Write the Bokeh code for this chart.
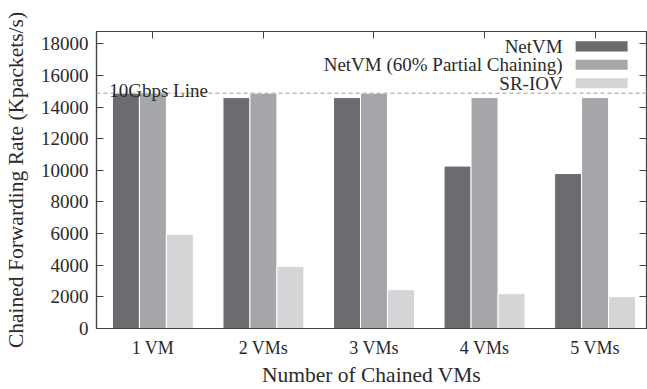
from bokeh.plotting import figure
from bokeh.models import (Range1d, FixedTicker, LinearAxis, Span, Label,
                          BoxAnnotation, ColumnDataSource)
from bokeh.transform import dodge
from bokeh.embed import file_html
from bokeh.resources import INLINE

categories = ["1 VM", "2 VMs", "3 VMs", "4 VMs", "5 VMs"]
netvm = [14880, 14600, 14600, 10270, 9800]
netvm_partial = [14880, 14880, 14880, 14600, 14600]
sriov = [5950, 3920, 2450, 2200, 2010]
series_names = ["NetVM", "NetVM (60% Partial Chaining)", "SR-IOV"]
colors = ["#6b6b70", "#a5a6a9", "#d4d5d7"]
y_ticks = [0, 2000, 4000, 6000, 8000, 10000, 12000, 14000, 16000, 18000]
line_rate = 14880
line_label = "10Gbps Line"

FONT = "Liberation Serif"
TXT = "#2a2a2a"
AX = "#444444"

xs = list(range(len(categories)))
src = ColumnDataSource(dict(x=xs, a=netvm, b=netvm_partial, c=sriov))

p = figure(width=647, height=389,
           x_range=Range1d(-0.51, 4.465), y_range=Range1d(0, 18780),
           output_backend="svg", toolbar_location=None,
           min_border_left=96, min_border_right=1,
           min_border_top=31, min_border_bottom=59)

bw = 0.244
for col, off, color in zip(["a", "b", "c"], [-bw, 0, bw], colors):
    p.vbar(x=dodge("x", off), top=col, width=bw, bottom=0, source=src,
           fill_color=color, line_color="white", line_width=1)

p.add_layout(Span(location=line_rate, dimension="width", line_color="#bbbbbb",
                  line_dash="4 3", line_width=1.5))
p.add_layout(Label(x=-0.395, y=15080, text=line_label, text_font=FONT,
                   text_font_size="19px", text_color=TXT,
                   text_baseline="alphabetic"))

# legend: text on the left, swatch on the right
leg_y = [17840, 16680, 15510]
for name, color, yy in zip(series_names, colors, leg_y):
    p.add_layout(Label(x=3.707, y=yy, text=name, text_align="right",
                       text_baseline="middle", text_font=FONT,
                       text_font_size="19px", text_color=TXT))
    p.add_layout(BoxAnnotation(left=3.824, right=4.294, bottom=yy - 320,
                               top=yy + 320, fill_color=color, fill_alpha=1,
                               line_color=None, level="overlay"))

p.grid.visible = False
p.background_fill_color = "white"
p.border_fill_color = "white"
p.outline_line_color = AX
p.outline_line_width = 1.2

# bottom axis
xa = p.xaxis[0]
xa.ticker = FixedTicker(ticks=xs)
xa.major_label_overrides = {i: c for i, c in enumerate(categories)}
xa.major_tick_in = 0
xa.major_tick_out = 0
xa.minor_tick_line_color = None
xa.axis_line_color = AX
xa.axis_line_width = 1.2
xa.major_label_standoff = 9
xa.major_label_text_font = FONT
xa.major_label_text_font_size = "18px"
xa.major_label_text_color = TXT
xa.axis_label = "Number of Chained VMs"
xa.axis_label_text_font = FONT
xa.axis_label_text_font_size = "21.5px"
xa.axis_label_text_font_style = "normal"
xa.axis_label_text_color = TXT
xa.axis_label_standoff = 2

# left axis
ya = p.yaxis[0]
ya.ticker = FixedTicker(ticks=y_ticks)
ya.major_tick_in = 7
ya.major_tick_out = 0
ya.minor_tick_line_color = None
ya.axis_line_color = AX
ya.axis_line_width = 1.2
ya.major_tick_line_color = AX
ya.major_label_standoff = 8
ya.major_label_text_font = FONT
ya.major_label_text_font_size = "19px"
ya.major_label_text_color = TXT
ya.axis_label = "Chained Forwarding Rate (Kpackets/s)"
ya.axis_label_text_font = FONT
ya.axis_label_text_font_size = "21.5px"
ya.axis_label_text_font_style = "normal"
ya.axis_label_text_color = TXT
ya.axis_label_standoff = 10

# top axis with inward ticks at categories (no labels)
top = LinearAxis(ticker=FixedTicker(ticks=xs), major_tick_in=7, major_tick_out=0,
                 minor_tick_line_color=None, axis_line_color=AX,
                 major_tick_line_color=AX, major_label_text_color=None,
                 major_label_standoff=0)
p.add_layout(top, "above")

# right axis with inward ticks (no labels)
right = LinearAxis(ticker=FixedTicker(ticks=y_ticks), major_tick_in=7,
                   major_tick_out=0, minor_tick_line_color=None,
                   axis_line_color=AX, major_tick_line_color=AX,
                   major_label_text_color=None, major_label_standoff=0)
p.add_layout(right, "right")

open("out.html", "w").write(file_html(p, INLINE))
